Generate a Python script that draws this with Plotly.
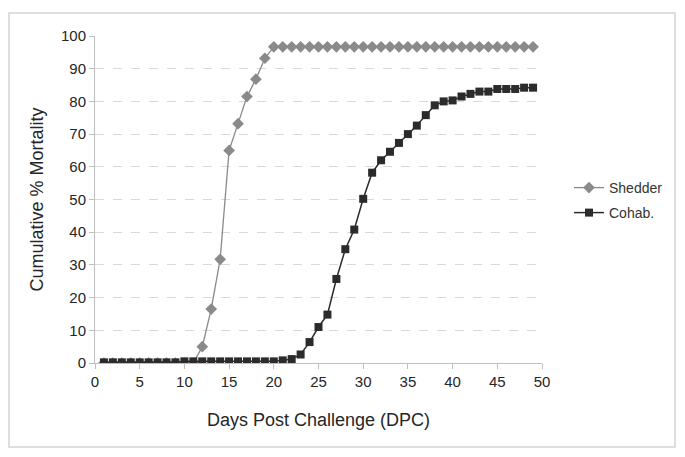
import plotly.graph_objects as go

days = list(range(1, 50))

shedder = [0, 0, 0, 0, 0, 0, 0, 0, 0, 0, 0, 5, 16.5, 31.7, 65, 73.2, 81.5, 86.8, 93.2,
           96.7, 96.7, 96.7, 96.7, 96.7, 96.7, 96.7, 96.7, 96.7, 96.7, 96.7, 96.7, 96.7,
           96.7, 96.7, 96.7, 96.7, 96.7, 96.7, 96.7, 96.7, 96.7, 96.7, 96.7, 96.7, 96.7,
           96.7, 96.7, 96.7, 96.7]

cohab = [0.2, 0.2, 0.2, 0.2, 0.2, 0.2, 0.2, 0.2, 0.2, 0.5, 0.5, 0.5, 0.5, 0.5, 0.5, 0.5,
         0.5, 0.5, 0.5, 0.5, 0.8, 1.2, 2.6, 6.4, 11, 14.8, 25.7, 34.8, 40.8, 50.2, 58.2,
         62, 64.6, 67.3, 70, 72.6, 75.8, 78.8, 80, 80.3, 81.5, 82.3, 83, 83, 83.8, 83.8,
         83.8, 84.2, 84.2]

x_ticks = [0, 5, 10, 15, 20, 25, 30, 35, 40, 45, 50]
y_ticks = [0, 10, 20, 30, 40, 50, 60, 70, 80, 90, 100]

FONT = "Liberation Sans, Arial, sans-serif"

# page body has an 8px margin; compensate so the figure lands at the reference position
OFF = 8
FW, FH = 685 - OFF, 457 - OFF

fig = go.Figure()
fig.add_trace(go.Scatter(
    x=days, y=shedder, name="Shedder", mode="lines+markers",
    line=dict(color="#8a8a8a", width=1.3),
    marker=dict(symbol="diamond", size=9, color="#8a8a8a"),
    legend="legend",
))
fig.add_trace(go.Scatter(
    x=days, y=cohab, name="Cohab.", mode="lines+markers",
    line=dict(color="#2b2b2b", width=1.5),
    marker=dict(symbol="square", size=8, color="#2b2b2b"),
    legend="legend2",
))

W0, W1 = 95 - OFF, 542 - OFF
H0, H1 = 36 - OFF, 363 - OFF
pw = W1 - W0
ph = H1 - H0

def px(x):
    return (x - OFF - W0) / pw

def py(y):
    return (H1 - (y - OFF)) / ph

fig.update_layout(
    width=FW, height=FH,
    margin=dict(l=W0, r=FW - W1, t=H0, b=FH - H1),
    paper_bgcolor="white", plot_bgcolor="white",
    font=dict(family=FONT, color="#262626", size=15),
    showlegend=True,
    legend=dict(x=px(569), y=py(188), xanchor="left", yanchor="middle",
                font=dict(size=14, color="#333333"), bgcolor="rgba(0,0,0,0)"),
    legend2=dict(x=px(569), y=py(213), xanchor="left", yanchor="middle",
                 font=dict(size=14, color="#333333"), bgcolor="rgba(0,0,0,0)"),
    xaxis=dict(
        range=[0, 50], tickvals=x_ticks, ticktext=[str(v) for v in x_ticks],
        showgrid=False, zeroline=False,
        showline=True, linecolor="#bfbfbf", linewidth=1,
        ticks="outside", ticklen=5, tickcolor="#bfbfbf",
        tickfont=dict(size=15, color="#262626"),
        title=dict(text="Days Post Challenge (DPC)", font=dict(size=18, color="#262626"),
                   standoff=24),
    ),
    yaxis=dict(
        range=[0, 100], tickvals=y_ticks, ticktext=[str(v) for v in y_ticks],
        showgrid=True, gridcolor="#d9d9d9", griddash="dash", gridwidth=1,
        zeroline=False,
        showline=True, linecolor="#bfbfbf", linewidth=1,
        ticks="outside", ticklen=5, tickcolor="#bfbfbf",
        tickfont=dict(size=15, color="#262626"),
        title=dict(text="Cumulative % Mortality", font=dict(size=18, color="#262626"),
                   standoff=12),
    ),
    shapes=[dict(type="rect", xref="paper", yref="paper",
                 x0=px(9), x1=px(675), y0=py(447), y1=py(13),
                 line=dict(color="#d4d4d4", width=1.5), layer="below")],
)

fig.write_html("out.html")
